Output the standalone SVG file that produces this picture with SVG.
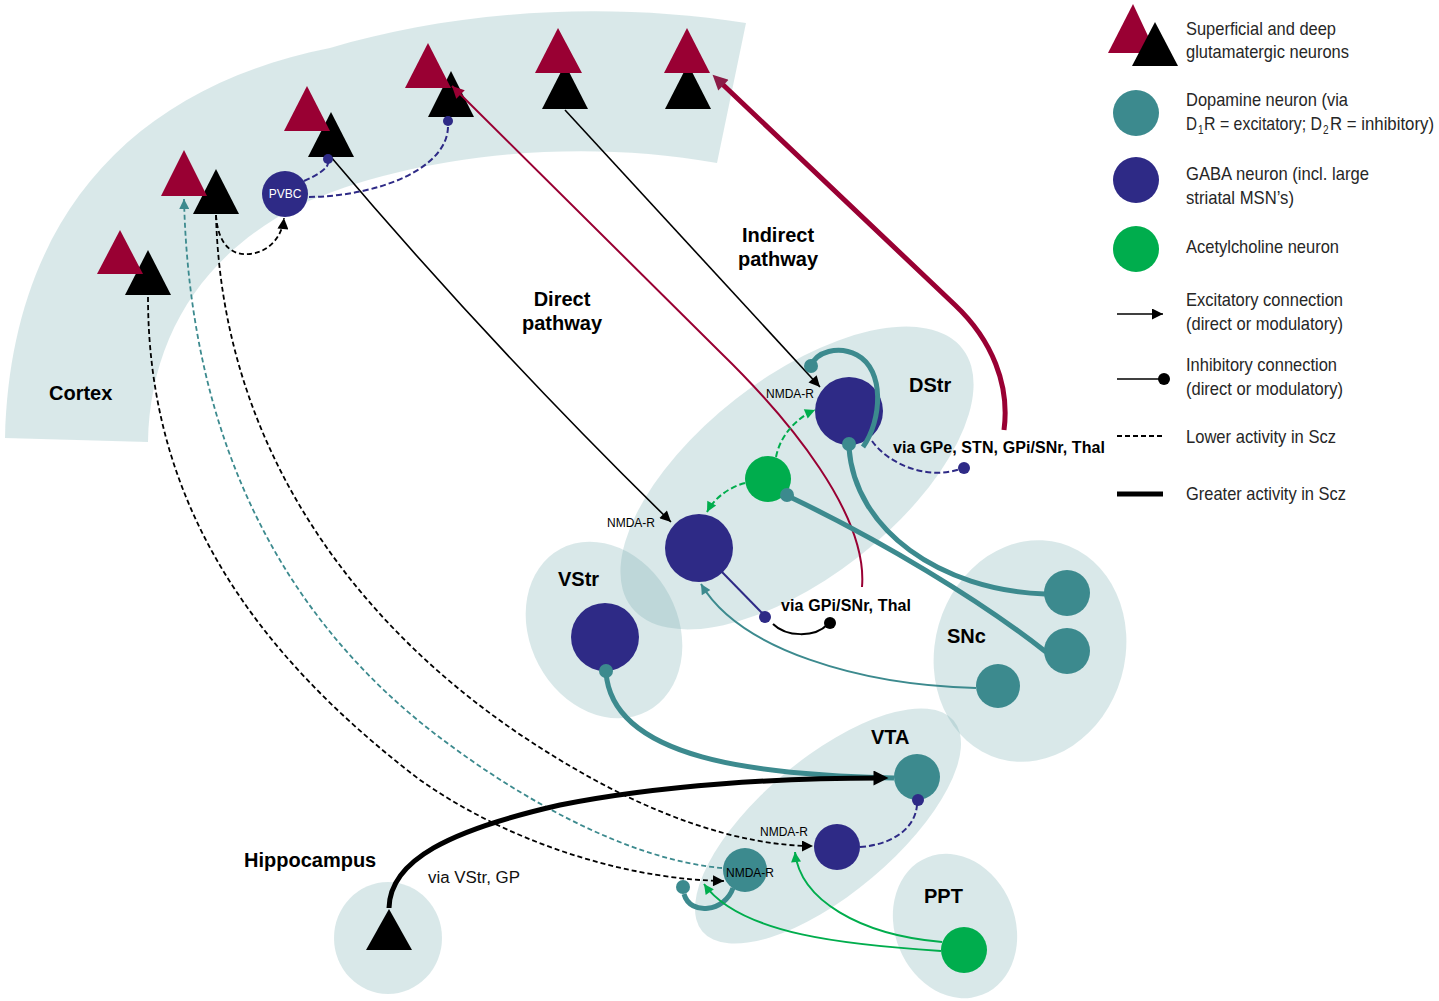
<svg xmlns="http://www.w3.org/2000/svg" width="1439" height="1001" viewBox="0 0 1439 1001">
<style>
text{font-family:"Liberation Sans",Arial,sans-serif}
.lbl{font-size:20px;font-weight:bold;fill:#000}
.via{font-size:16px;font-weight:bold;fill:#000}
.nm{font-size:12px;fill:#000}
.lg{font-size:19px;fill:#262626}
.lg16{font-size:16px;fill:#262626}
.sub{font-size:10px;fill:#262626}
.rg{fill:#7cb0b3;fill-opacity:0.29}
.red{fill:#990033}
.blk{fill:#000}
.da{fill:#3c8a8e}
.ga{fill:#2e2a86}
.ac{fill:#00ad4d}
.ln{fill:none;stroke-linecap:butt}
.k{stroke:#000;stroke-width:1.6}
.kd{stroke:#000;stroke-width:1.8;stroke-dasharray:5 3}
.td{stroke:#3c8a8e;stroke-width:1.8;stroke-dasharray:5 3}
.nd{stroke:#2e2a86;stroke-width:2;stroke-dasharray:6 3}
.gd{stroke:#00ad4d;stroke-width:2;stroke-dasharray:6 3}
.tt{stroke:#3c8a8e;stroke-width:5}
.tn{stroke:#3c8a8e;stroke-width:2}
.gn{stroke:#00ad4d;stroke-width:2}
</style>
<defs>
<marker id="aK" viewBox="0 0 10 10" refX="10" refY="5" markerWidth="17" markerHeight="11" markerUnits="userSpaceOnUse" orient="auto"><path d="M0,0L10,5L0,10z" fill="#000"/></marker>
<marker id="aKT" viewBox="0 0 10 10" refX="5" refY="5" markerWidth="24" markerHeight="15" markerUnits="userSpaceOnUse" orient="auto"><path d="M0,0L10,5L0,10z" fill="#000"/></marker>
<marker id="aR" viewBox="0 0 10 10" refX="10" refY="5" markerWidth="18" markerHeight="12" markerUnits="userSpaceOnUse" orient="auto"><path d="M0,0L10,5L0,10z" fill="#990033"/></marker>
<marker id="aRT" viewBox="0 0 10 10" refX="5" refY="5" markerWidth="23" markerHeight="15" markerUnits="userSpaceOnUse" orient="auto"><path d="M0,0L10,5L0,10z" fill="#8b1c47"/></marker>
<marker id="aT" viewBox="0 0 10 10" refX="10" refY="5" markerWidth="15" markerHeight="10" markerUnits="userSpaceOnUse" orient="auto"><path d="M0,0L10,5L0,10z" fill="#3c8a8e"/></marker>
<marker id="aG" viewBox="0 0 10 10" refX="10" refY="5" markerWidth="15" markerHeight="10" markerUnits="userSpaceOnUse" orient="auto"><path d="M0,0L10,5L0,10z" fill="#00ad4d"/></marker>
</defs>
<rect width="1439" height="1001" fill="#fff"/>

<g id="cortex">
<path class="rg" d="M5,438 C10,230 120,90 330,48 C450,12 600,0 746,23 L717,163 C560,135 400,160 300,205 C200,255 150,340 148,442 Z"/>
<text class="lbl" x="49" y="400">Cortex</text>
</g>
<g id="dstr">
<ellipse class="rg" cx="797" cy="478" rx="210" ry="100" transform="rotate(-38 797 478)"/>
<text class="lbl" x="909" y="392">DStr</text>
</g>
<g id="vstr">
<ellipse class="rg" cx="604" cy="630" rx="92" ry="74" transform="rotate(62 604 630)"/>
<text class="lbl" x="558" y="586">VStr</text>
</g>
<g id="snc">
<ellipse class="rg" cx="1030" cy="651" rx="95" ry="112" transform="rotate(16 1030 651)"/>
<text class="lbl" x="947" y="643">SNc</text>
</g>
<g id="vta">
<ellipse class="rg" cx="828" cy="826" rx="164" ry="68" transform="rotate(-40 828 826)"/>
<text class="lbl" x="871" y="744">VTA</text>
</g>
<g id="ppt">
<ellipse class="rg" cx="955" cy="926" rx="60" ry="74" transform="rotate(-22 955 926)"/>
<text class="lbl" x="924" y="903">PPT</text>
</g>
<g id="hippocampus">
<ellipse class="rg" cx="388" cy="938" rx="54" ry="56"/>
<text class="lbl" x="244" y="867">Hippocampus</text>
<path class="blk" d="M389,909 L412,950 L366,950 Z"/>
</g>

<g id="pyr1"><path class="blk" d="M148,250L171,295L125,295Z"/><path class="red" d="M120,230L143,274L97,274Z"/></g>
<g id="pyr2"><path class="blk" d="M216,169L239,214L193,214Z"/><path class="red" d="M184,150L207,196L161,196Z"/></g>
<g id="pyr3"><path class="blk" d="M331,112L354,157L308,157Z"/><path class="red" d="M307,86L330,131L284,131Z"/></g>
<g id="pyr4"><path class="blk" d="M451,71L474,117L428,117Z"/><path class="red" d="M428,43L451,88L405,88Z"/></g>
<g id="pyr5"><path class="blk" d="M565,64L588,109L542,109Z"/><path class="red" d="M558,28L582,73L535,73Z"/></g>
<g id="pyr6"><path class="blk" d="M688,64L711,109L665,109Z"/><path class="red" d="M687,28L710,73L664,73Z"/></g>

<g id="pvbc"><circle class="ga" cx="285" cy="194" r="23"/><text x="285" y="198" font-size="12" fill="#fff" text-anchor="middle">PVBC</text></g>
<g id="msn-indirect"><circle class="ga" cx="849" cy="411" r="34"/></g>
<g id="msn-direct"><circle class="ga" cx="699" cy="548" r="34"/></g>
<g id="ach-dstr"><circle class="ac" cx="768" cy="479" r="23"/></g>
<g id="msn-vstr"><circle class="ga" cx="605" cy="637" r="34"/></g>
<g id="da-snc1"><circle class="da" cx="1067" cy="593" r="23"/></g>
<g id="da-snc2"><circle class="da" cx="1067" cy="651" r="23"/></g>
<g id="da-snc3"><circle class="da" cx="998" cy="686" r="22"/></g>
<g id="da-vta1"><circle class="da" cx="917" cy="777" r="23"/></g>
<g id="gaba-vta"><circle class="ga" cx="837" cy="847" r="23"/></g>
<g id="da-vta2"><circle class="da" cx="745" cy="870" r="22"/></g>
<g id="ach-ppt"><circle class="ac" cx="964" cy="950" r="23"/></g>

<g id="connectors">
<path class="ln k" d="M331,157 Q490,345 671,522" marker-end="url(#aK)"/>
<path class="ln k" d="M565,110 Q690,245 820,387" marker-end="url(#aK)"/>
<path class="ln" stroke="#990033" stroke-width="2" d="M862,587 C868,515 790,420 720,352 L452,86" marker-end="url(#aR)"/>
<path class="ln" stroke="#990033" stroke-width="5" d="M1004,430 C1010,385 992,340 955,305 L718,80" marker-end="url(#aRT)"/>
<path class="ln kd" d="M148,297 C148,500 250,650 420,780 C520,850 640,880 724,881" marker-end="url(#aK)"/>
<path class="ln td" d="M722,868 C630,860 520,800 430,730 C290,620 190,450 184,199" marker-end="url(#aT)"/>
<path class="ln kd" d="M216,215 C222,450 360,640 560,760 C650,815 740,846 813,846" marker-end="url(#aK)"/>
<path class="ln kd" d="M216,215 C218,245 232,256 250,254 C268,252 282,238 284,218" marker-end="url(#aK)"/>
<path class="ln nd" d="M309,197 C380,196 448,168 448,126"/>
<path class="ln nd" d="M304,181 C318,175 328,168 328,163"/>
<path class="ln tt" d="M863,447 C882,420 885,370 857,355 C838,345 816,352 811,366"/>
<path class="ln tt" d="M1045,594 C940,590 855,530 849,448"/>
<path class="ln tt" d="M1046,652 C980,600 880,540 790,497"/>
<path class="ln tn" d="M976,688 C860,685 740,650 701,584" marker-end="url(#aT)"/>
<path class="ln" stroke="#2e2a86" stroke-width="2" d="M722,572 L763,614"/>
<path class="ln" stroke="#000" stroke-width="2" d="M773,624 C786,637 815,638 828,624"/>
<path class="ln nd" d="M872,441 C890,466 930,480 960,469"/>
<path class="ln gd" d="M776,457 C780,436 796,418 815,410" marker-end="url(#aG)"/>
<path class="ln gd" d="M745,483 C730,487 715,497 707,512" marker-end="url(#aG)"/>
<path class="ln tt" d="M606,672 C612,760 760,775 894,778"/>
<path class="ln" stroke="#000" stroke-width="5" d="M389,908 C390,860 450,830 560,805 C660,785 780,778 881,778" marker-end="url(#aKT)"/>
<path class="ln nd" d="M860,847 C890,845 915,830 917,805"/>
<path class="ln tt" d="M733,888 C725,912 690,916 684,894"/>
<path class="ln gn" d="M941,951 C850,945 740,935 704,884" marker-end="url(#aG)"/>
<path class="ln gn" d="M942,942 C860,935 800,900 795,852" marker-end="url(#aG)"/>
<circle class="ga" cx="448" cy="121" r="5"/>
<circle class="ga" cx="328" cy="159" r="5"/>
<circle class="da" cx="811" cy="366" r="7"/>
<circle class="da" cx="849" cy="444" r="7"/>
<circle class="ga" cx="964" cy="468" r="6"/>
<circle class="da" cx="787" cy="495" r="7"/>
<circle class="ga" cx="765" cy="617" r="6"/>
<circle class="blk" cx="830" cy="623" r="6"/>
<circle class="da" cx="606" cy="671" r="7"/>
<circle class="ga" cx="918" cy="800" r="6"/>
<circle class="da" cx="683" cy="887" r="7"/>
<text class="nm" x="766" y="398">NMDA-R</text>
<text class="nm" x="607" y="527">NMDA-R</text>
<text class="nm" x="760" y="836">NMDA-R</text>
<text class="nm" x="726" y="877">NMDA-R</text>
<text class="via" x="893" y="453" textLength="212" lengthAdjust="spacing">via GPe, STN, GPi/SNr, Thal</text>
<text class="via" x="781" y="611" textLength="130" lengthAdjust="spacing">via GPi/SNr, Thal</text>
<text x="428" y="883" font-size="16" fill="#111" textLength="92" lengthAdjust="spacingAndGlyphs">via VStr, GP</text>
<text class="lbl" x="562" y="306" text-anchor="middle">Direct</text>
<text class="lbl" x="562" y="330" text-anchor="middle">pathway</text>
<text class="lbl" x="778" y="242" text-anchor="middle">Indirect</text>
<text class="lbl" x="778" y="266" text-anchor="middle">pathway</text>
</g>

<g id="legend">
<path class="red" d="M1133,4L1156,53L1108,53Z"/>
<path class="blk" d="M1155,22L1178,66L1132,66Z"/>
<circle class="da" cx="1136" cy="113" r="23"/>
<circle class="ga" cx="1136" cy="180" r="23"/>
<circle class="ac" cx="1136" cy="249" r="23"/>
<path class="ln k" d="M1117,314 L1163,314" marker-end="url(#aK)"/>
<path class="ln k" d="M1117,379 L1160,379"/>
<circle class="blk" cx="1164" cy="379" r="6"/>
<path class="ln kd" d="M1117,436 L1163,436"/>
<path class="ln" stroke="#000" stroke-width="5" d="M1117,494 L1163,494"/>
<text class="lg" x="1186" y="35" textLength="150" lengthAdjust="spacingAndGlyphs">Superficial and deep</text>
<text class="lg" x="1186" y="58" textLength="163" lengthAdjust="spacingAndGlyphs">glutamatergic neurons</text>
<text class="lg" x="1186" y="106" textLength="162" lengthAdjust="spacingAndGlyphs">Dopamine neuron (via</text>
<g transform="translate(0,130) scale(1,1.19) translate(0,-130)">
<text class="lg16" x="1186" y="130" textLength="11" lengthAdjust="spacingAndGlyphs">D</text>
<text class="sub" x="1198" y="133.4">1</text>
<text class="lg16" x="1204" y="130" textLength="118" lengthAdjust="spacingAndGlyphs">R = excitatory; D</text>
<text class="sub" x="1323" y="133.4">2</text>
<text class="lg16" x="1330" y="130" textLength="104" lengthAdjust="spacingAndGlyphs">R = inhibitory)</text>
</g>
<text class="lg" x="1186" y="180" textLength="183" lengthAdjust="spacingAndGlyphs">GABA neuron (incl. large</text>
<text class="lg" x="1186" y="204" textLength="108" lengthAdjust="spacingAndGlyphs">striatal MSN’s)</text>
<text class="lg" x="1186" y="253" textLength="153" lengthAdjust="spacingAndGlyphs">Acetylcholine neuron</text>
<text class="lg" x="1186" y="306" textLength="157" lengthAdjust="spacingAndGlyphs">Excitatory connection</text>
<text class="lg" x="1186" y="330" textLength="157" lengthAdjust="spacingAndGlyphs">(direct or modulatory)</text>
<text class="lg" x="1186" y="371" textLength="151" lengthAdjust="spacingAndGlyphs">Inhibitory connection</text>
<text class="lg" x="1186" y="395" textLength="157" lengthAdjust="spacingAndGlyphs">(direct or modulatory)</text>
<text class="lg" x="1186" y="443" textLength="150" lengthAdjust="spacingAndGlyphs">Lower activity in Scz</text>
<text class="lg" x="1186" y="500" textLength="160" lengthAdjust="spacingAndGlyphs">Greater activity in Scz</text>
</g>
</svg>
